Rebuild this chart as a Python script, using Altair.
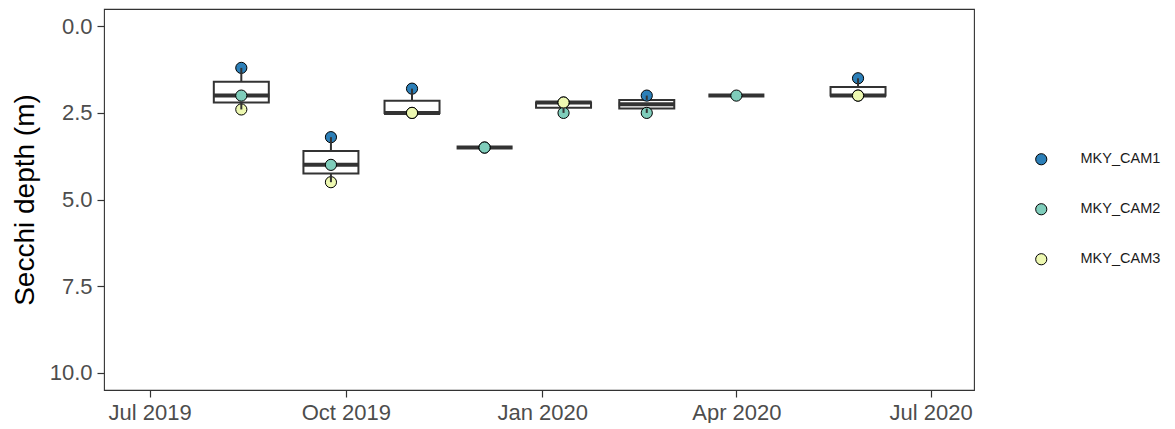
import altair as alt
import pandas as pd

dates = ["2019-08-13", "2019-09-24", "2019-11-01", "2019-12-05",
         "2020-01-11", "2020-02-19", "2020-04-01", "2020-05-28"]
cam1 = [1.2, 3.2, 1.8, 3.5, 2.2, 2.0, None, 1.5]
cam2 = [2.0, 4.0, 2.5, 3.5, 2.5, 2.5, 2.0, 2.0]
cam3 = [2.4, 4.5, 2.5, None, 2.2, None, None, 2.0]
sites = ["MKY_CAM1", "MKY_CAM2", "MKY_CAM3"]
colors = ["#2c7fb8", "#7fcdbb", "#edf8b1"]
y_ticks = [0, 2.5, 5, 7.5, 10]

rows = []
for site, vals in zip(sites, [cam1, cam2, cam3]):
    for d, v in zip(dates, vals):
        if v is not None:
            rows.append({"date": d, "site": site, "value": v})
df = pd.DataFrame(rows)

FONT = "Liberation Sans"
DARK = "#333333"

x = alt.X("date:T",
          scale=alt.Scale(type="utc", domain=[alt.DateTime(year=2019, month=6, date=12, utc=True),
                                               alt.DateTime(year=2020, month=7, date=19, utc=True)]),
          axis=alt.Axis(title=None, labelExpr="utcFormat(datum.value, '%b %Y')",
                        values=[alt.DateTime(year=2019, month=7, date=1, utc=True),
                                alt.DateTime(year=2019, month=10, date=1, utc=True),
                                alt.DateTime(year=2020, month=1, date=1, utc=True),
                                alt.DateTime(year=2020, month=4, date=1, utc=True),
                                alt.DateTime(year=2020, month=7, date=1, utc=True)]))
yscale = alt.Scale(domain=[-0.5, 10.5], reverse=True, nice=False, zero=False)
yaxis = alt.Axis(title="Secchi depth (m)", values=y_ticks, format=".1f")

base = alt.Chart(df)
stats = base.transform_aggregate(
    q1="q1(value)", q3="q3(value)", med="median(value)",
    lo="min(value)", hi="max(value)", groupby=["date"])

box = stats.mark_bar(size=55, fill="white", stroke=DARK, strokeWidth=2).encode(
    x=x, y=alt.Y("q1:Q", scale=yscale, axis=yaxis), y2="q3:Q")
med = stats.mark_tick(orient="horizontal", size=56, thickness=4, color=DARK, opacity=1).encode(
    x=x, y=alt.Y("med:Q", scale=yscale))
wlo = stats.mark_rule(color=DARK, strokeWidth=2).encode(
    x=x, y=alt.Y("lo:Q", scale=yscale), y2="q1:Q")
whi = stats.mark_rule(color=DARK, strokeWidth=2).encode(
    x=x, y=alt.Y("q3:Q", scale=yscale), y2="hi:Q")

pts = base.mark_point(filled=True, size=125, stroke="black", strokeWidth=1, opacity=1).encode(
    x=x, y=alt.Y("value:Q", scale=yscale),
    color=alt.Color("site:N", scale=alt.Scale(domain=sites, range=colors),
                    legend=alt.Legend(title=None, symbolType="circle", symbolSize=125,
                                      symbolStrokeColor="black", symbolStrokeWidth=1,
                                      symbolOpacity=1, orient="none",
                                      legendX=930, legendY=143,
                                      labelFontSize=14.5, labelFont=FONT, labelColor="#1a1a1a",
                                      rowPadding=34, labelOffset=32,
                                      padding=0)),
    order=alt.Order("site:N"))

chart = alt.layer(box, med, pts, wlo, whi).properties(
    width=870, height=381,
    padding={"left": 3, "top": 1, "right": 5, "bottom": 0}
).configure_view(stroke=DARK, strokeWidth=1.1).configure_axis(
    grid=False, domain=False, tickColor=DARK, tickSize=7, tickWidth=1.2,
    labelFont=FONT, labelFontSize=22, labelColor="#4d4d4d", labelPadding=5,
    titleFont=FONT, titleFontSize=28, titleColor="black", titleFontWeight="normal",
    titlePadding=10
)

chart.save("out.html", embed_options={"renderer": "svg", "actions": False})
